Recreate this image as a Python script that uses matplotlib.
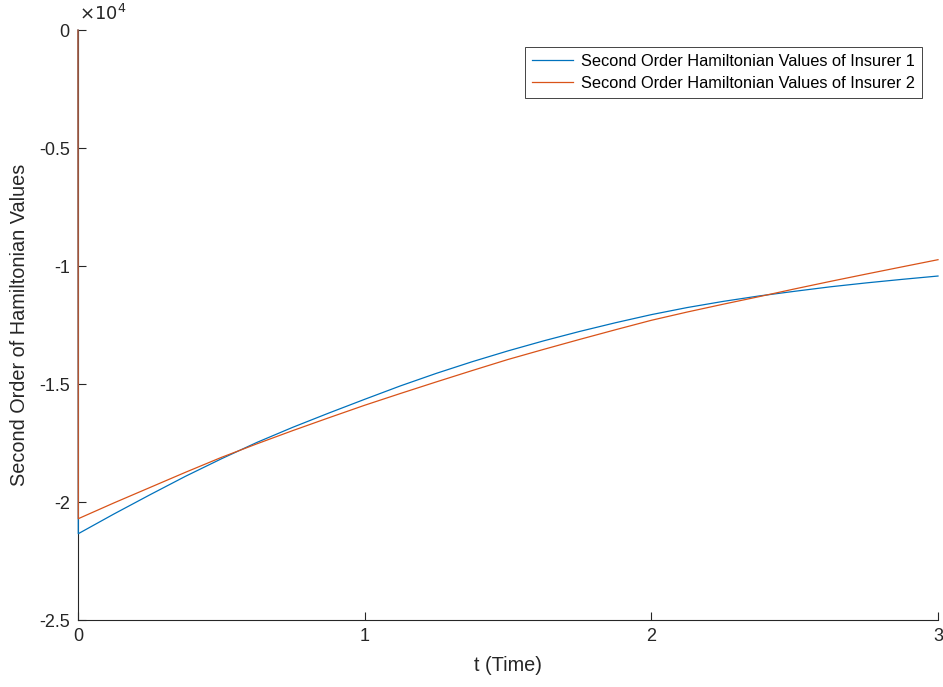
import matplotlib
matplotlib.use("Agg")
import matplotlib.pyplot as plt
from matplotlib.ticker import FuncFormatter

plt.rcParams["font.family"] = ["Liberation Sans", "DejaVu Sans"]

# time grid and second order Hamiltonian values (both start at 0 before the jump)
t = [0.0, 0.001, 0.125, 0.25, 0.375, 0.5, 0.625, 0.75, 0.875, 1.0,
     1.125, 1.25, 1.375, 1.5, 1.625, 1.75, 1.875, 2.0,
     2.125, 2.25, 2.375, 2.5, 2.625, 2.75, 2.875, 3.0]
h_insurer1 = [0, -21343, -20510, -19700, -18910, -18170, -17470, -16830, -16230, -15648,
              -15078, -14548, -14055, -13596, -13169, -12772, -12403, -12060,
              -11760, -11500, -11270, -11071, -10880, -10715, -10565, -10424]
h_insurer2 = [0, -20707, -20040, -19390, -18740, -18110, -17530, -16970, -16430, -15900,
              -15400, -14910, -14430, -13960, -13530, -13110, -12700, -12300,
              -11950, -11620, -11300, -10970, -10650, -10340, -10035, -9732]
labels = ["Second Order Hamiltonian Values of Insurer 1",
          "Second Order Hamiltonian Values of Insurer 2"]
xticks = [0, 1, 2, 3]
yticks = [-25000, -20000, -15000, -10000, -5000, 0]

fig = plt.figure(figsize=(9.43, 6.87), dpi=100)
ax = fig.add_axes([0.0827, 0.0975, 0.912, 0.8588])

ax.plot(t, h_insurer1, color="#0072BD", linewidth=0.9, label=labels[0],
        zorder=3, clip_on=False)
ax.plot(t, h_insurer2, color="#D95319", linewidth=0.9, label=labels[1],
        zorder=3, clip_on=False)

ax.set_xlim(0, 3)
ax.set_ylim(-25000, 0)
ax.set_xticks(xticks)
ax.set_yticks(yticks)
ax.yaxis.set_major_formatter(FuncFormatter(lambda v, p: "%g" % (v / 1e4)))

for side in ["top", "right"]:
    ax.spines[side].set_visible(False)
for side in ["left", "bottom"]:
    ax.spines[side].set_color("#262626")
    ax.spines[side].set_linewidth(0.8)
ax.tick_params(direction="in", length=6, width=0.8, colors="#262626",
               labelsize=13, pad=6)

ax.annotate(r"$\times10^{4}$", xy=(0.0, 1.0), xycoords="axes fraction",
            xytext=(1, 4), textcoords="offset points", fontsize=13,
            color="#262626", ha="left", va="bottom")

ax.set_xlabel("t (Time)", fontsize=14.3, color="#262626", labelpad=8)
ax.set_ylabel("Second Order of Hamiltonian Values", fontsize=14.3,
              color="#262626", labelpad=7)

leg = ax.legend(loc="upper right", bbox_to_anchor=(0.981, 0.971), fontsize=11.8,
                fancybox=False, framealpha=1, edgecolor="#262626",
                handlelength=2.5, borderpad=0.4, labelspacing=0.45,
                handletextpad=0.5, borderaxespad=0)
leg.get_frame().set_linewidth(0.6)

fig.savefig("out.png", dpi=100)
